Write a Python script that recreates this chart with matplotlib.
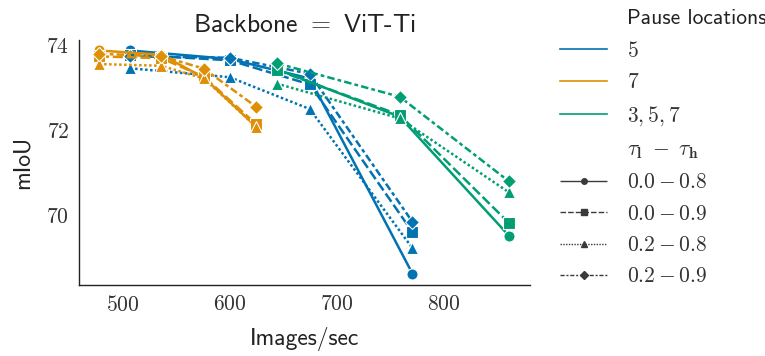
import matplotlib
matplotlib.use("Agg")
import matplotlib.pyplot as plt
from matplotlib.lines import Line2D
from matplotlib.ticker import FuncFormatter

plt.rcParams['mathtext.fontset'] = 'cm'
plt.rcParams['font.family'] = ['cmss10', 'DejaVu Sans']
plt.rcParams['axes.unicode_minus'] = False

# ---- data ----
pause_locations = ["5", "7", "3, 5, 7"]
thresholds = ["0.0 - 0.8", "0.0 - 0.9", "0.2 - 0.8", "0.2 - 0.9"]

x_5 = [507, 600, 675, 771]
x_7 = [478, 536, 576, 625]
x_357 = [644, 759, 861]

miou_5 = {
    "0.0 - 0.8": [73.88, 73.68, 73.22, 68.62],
    "0.0 - 0.9": [73.78, 73.65, 73.08, 69.60],
    "0.2 - 0.8": [73.46, 73.25, 72.50, 69.22],
    "0.2 - 0.9": [73.74, 73.71, 73.33, 69.84],
}
miou_7 = {
    "0.0 - 0.8": [73.88, 73.78, 73.24, 72.08],
    "0.0 - 0.9": [73.74, 73.70, 73.26, 72.14],
    "0.2 - 0.8": [73.56, 73.52, 73.22, 72.08],
    "0.2 - 0.9": [73.80, 73.75, 73.45, 72.55],
}
miou_357 = {
    "0.0 - 0.8": [73.44, 72.32, 69.52],
    "0.0 - 0.9": [73.42, 72.36, 69.82],
    "0.2 - 0.8": [73.10, 72.28, 70.54],
    "0.2 - 0.9": [73.58, 72.79, 70.80],
}

colors = ["#0173b2", "#de8f05", "#029e73"]
styles = {"0.0 - 0.8": ((0, ()), "o"), "0.0 - 0.9": ((0, (4, 1.5)), "s"),
          "0.2 - 0.8": ((0, (1, 1)), "^"), "0.2 - 0.9": ((0, (3, 1.25, 1.5, 1.25)), "D")}

fig = plt.figure(figsize=(7.65, 3.56), dpi=100)
ax = fig.add_axes([0.103, 0.199, 0.590, 0.689])

series = [(x_5, miou_5), (x_7, miou_7), (x_357, miou_357)]
for (xs, d), c in zip(series, colors):
    for th in thresholds:
        ls, mk = styles[th]
        ax.plot(xs, d[th], color=c, linestyle=ls, marker=mk, lw=1.8,
                markersize=8 if mk != "D" else 7.5, markeredgecolor="white",
                markeredgewidth=0.8, clip_on=False)

ax.set_xlim(459, 881)
ax.set_ylim(68.35, 74.13)
ax.set_xticks([500, 600, 700, 800])
ax.set_yticks([70, 72, 74])
fmt = FuncFormatter(lambda v, p: r"$%d$" % v)
ax.xaxis.set_major_formatter(fmt)
ax.yaxis.set_major_formatter(fmt)
ax.tick_params(axis="both", labelsize=15.5, length=0, pad=7, colors="#333333")
for s in ["top", "right"]:
    ax.spines[s].set_visible(False)
for s in ["left", "bottom"]:
    ax.spines[s].set_color("#222222")
    ax.spines[s].set_linewidth(1.0)

ax.set_xlabel("Images/sec", fontsize=17, labelpad=9, color="#222222")
ax.set_ylabel("mIoU", fontsize=17, labelpad=9, color="#222222")
ax.set_title(r"Backbone $=$ ViT-Ti", fontsize=18.5, color="#222222", pad=6)

# legend
handles, labels = [], []
handles.append(Line2D([], [], color="none")); labels.append("Pause locations")
for p, c in zip(pause_locations, colors):
    handles.append(Line2D([], [], color=c, lw=1.2))
    labels.append(r"$%s$" % p)
handles.append(Line2D([], [], color="none"))
labels.append(r"$\tau_{\mathbf{l}}\ -\ \tau_{\mathbf{h}}$")
for th in thresholds:
    ls, mk = styles[th]
    handles.append(Line2D([], [], color="#3a3a3a", linestyle=ls, marker=mk,
                          lw=1.0, markersize=4))
    labels.append(r"$%s$" % th)

leg = fig.legend(handles, labels, loc="upper left", bbox_to_anchor=(0.715, 1.01),
                 frameon=False, fontsize=15.5, handlelength=2.2, handletextpad=0.9,
                 labelspacing=0.57, borderaxespad=0.2)
for t in leg.get_texts():
    t.set_color("#333333")
leg.get_texts()[0].set_color("#222222")

fig.savefig("out.png", dpi=100)
